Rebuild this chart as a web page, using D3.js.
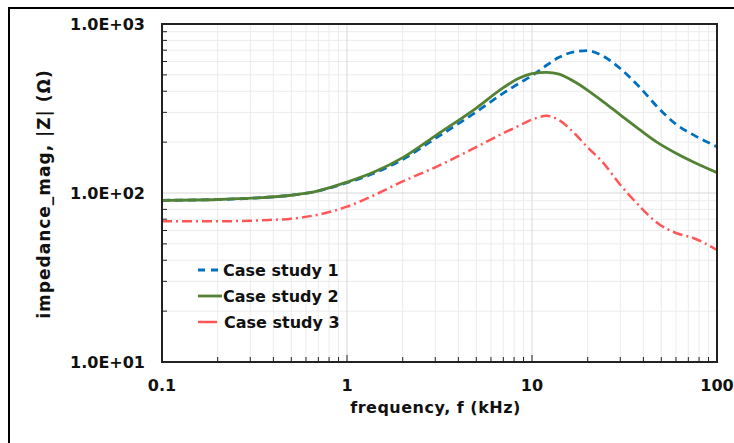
<!DOCTYPE html>
<html>
<head>
<meta charset="utf-8">
<script src="https://cdn.jsdelivr.net/npm/d3@7"></script>
<style>
  body { margin: 0; background: #fff; }
  svg { display: block; font-family: 'DejaVu Sans', sans-serif; }
  .tick-label { font-size: 16px; font-weight: bold; fill: #111; }
</style>
</head>
<body>
<div id="chart"></div>
<script>
// frequency points in kHz (shared by all three cases)
const freq = [0.1, 0.2, 0.35, 0.5, 0.7, 1, 1.4, 2, 3, 5, 7, 8.5, 10, 12, 14, 17, 20, 24, 30, 38, 48, 60, 75, 100]

// impedance magnitude |Z| (ohm)
const case1 = [90.5, 91.5, 94, 97, 103, 115, 131, 158, 210, 302, 390, 445, 495, 570, 635, 685, 695, 650, 545, 425, 320, 255, 220, 188]
const case2 = [90.5, 91.5, 94, 97, 103, 116, 133, 162, 218, 318, 420, 478, 508, 518, 505, 455, 405, 350, 290, 238, 198, 172, 152, 132]
const case3 = [68, 68, 69, 70.5, 74.5, 83, 97, 117, 142, 187, 226, 250, 272, 286, 270, 225, 186, 153, 112, 84, 66, 58, 54, 46]

const seriesNames = ['Case study 1', 'Case study 2', 'Case study 3']
const xTicks = [0.1, 1, 10, 100]
const yTicks = [10, 100, 1000]

const W = 734
const H = 443
const margin = { top: 24, right: 17, bottom: 81, left: 162 }
const width = W - margin.left - margin.right
const height = H - margin.top - margin.bottom

const svg = d3.select('#chart')
  .append('svg')
  .attr('width', W)
  .attr('height', H)

// outer frame of the figure (only left and top visible)
svg.append('path')
  .attr('d', `M9,${H} L9,8 L${W},8`)
  .attr('fill', 'none')
  .attr('stroke', '#000')
  .attr('stroke-width', 2)

const g = svg.append('g')
  .attr('transform', `translate(${margin.left},${margin.top})`)

const x = d3.scaleLog().domain([0.1, 100]).range([0, width])
const y = d3.scaleLog().domain([10, 1000]).range([height, 0])

// minor positions of each decade
const xMinor = x.ticks().filter(d => !xTicks.includes(d))
const yMinor = y.ticks().filter(d => !yTicks.includes(d))

// grid
g.append('g').selectAll('line')
  .data(xMinor)
  .enter().append('line')
  .attr('x1', d => x(d)).attr('x2', d => x(d))
  .attr('y1', 0).attr('y2', height)
  .attr('stroke', '#ececec')
g.append('g').selectAll('line')
  .data(yMinor)
  .enter().append('line')
  .attr('y1', d => y(d)).attr('y2', d => y(d))
  .attr('x1', 0).attr('x2', width)
  .attr('stroke', '#ececec')
g.append('g').selectAll('line')
  .data(xTicks)
  .enter().append('line')
  .attr('x1', d => x(d)).attr('x2', d => x(d))
  .attr('y1', 0).attr('y2', height)
  .attr('stroke', '#d9d9d9')
g.append('g').selectAll('line')
  .data(yTicks)
  .enter().append('line')
  .attr('y1', d => y(d)).attr('y2', d => y(d))
  .attr('x1', 0).attr('x2', width)
  .attr('stroke', '#d9d9d9')

// inward tick marks
g.append('g').selectAll('line')
  .data(yMinor)
  .enter().append('line')
  .attr('x1', 0).attr('x2', 5)
  .attr('y1', d => y(d)).attr('y2', d => y(d))
  .attr('stroke', '#222')
g.append('g').selectAll('line')
  .data(x.ticks())
  .enter().append('line')
  .attr('y1', height).attr('y2', d => xTicks.includes(d) ? height - 7 : height - 5)
  .attr('x1', d => x(d)).attr('x2', d => x(d))
  .attr('stroke', '#222')

// series
const line = d3.line()
  .x(d => x(d[0]))
  .y(d => y(d[1]))
  .curve(d3.curveMonotoneX)

const series = [
  { name: seriesNames[0], values: case1, color: '#0070c0', dash: '8,5', width: 2.8 },
  { name: seriesNames[1], values: case2, color: '#548235', dash: null, width: 2.8 },
  { name: seriesNames[2], values: case3, color: '#ff5757', dash: '10,4,2,4', width: 2.5 }
]

g.append('g').selectAll('path')
  .data(series)
  .enter().append('path')
  .attr('d', s => line(freq.map((f, i) => [f, s.values[i]])))
  .attr('fill', 'none')
  .attr('stroke', s => s.color)
  .attr('stroke-width', s => s.width)
  .attr('stroke-dasharray', s => s.dash)

// plot frame
g.append('rect')
  .attr('width', width).attr('height', height)
  .attr('fill', 'none')
  .attr('stroke', '#222')
  .attr('stroke-width', 2)

// tick labels
g.append('g').selectAll('text')
  .data(yTicks)
  .enter().append('text')
  .attr('class', 'tick-label')
  .attr('x', -17)
  .attr('y', d => y(d))
  .attr('dy', '0.35em')
  .attr('text-anchor', 'end')
  .text(d => d3.format('.1e')(d).replace('e+', 'E+0'))

g.append('g').selectAll('text')
  .data(xTicks)
  .enter().append('text')
  .attr('class', 'tick-label')
  .attr('x', d => x(d))
  .attr('y', height + 29)
  .attr('text-anchor', 'middle')
  .text(d => d)

// axis titles
g.append('text')
  .attr('x', width / 2 - 4)
  .attr('y', height + 51)
  .attr('text-anchor', 'middle')
  .style('font-size', '16px')
  .style('font-weight', 'bold')
  .style('letter-spacing', '0.5px')
  .attr('fill', '#111')
  .text('frequency, f (kHz)')

svg.append('text')
  .attr('transform', `translate(50,${margin.top + height / 2 + 1}) rotate(-90)`)
  .attr('text-anchor', 'middle')
  .style('font-size', '17px')
  .style('font-weight', 'bold')
  .style('letter-spacing', '1px')
  .attr('fill', '#111')
  .text('impedance_mag, |Z| (Ω)')

// legend
const legend = g.append('g')
  .attr('transform', `translate(36,${270 - margin.top})`)

const items = legend.selectAll('g')
  .data(series)
  .enter().append('g')
  .attr('transform', (d, i) => `translate(0,${i * 26})`)

items.append('line')
  .attr('x1', 0).attr('x2', (d, i) => i === 2 ? 19 : 24)
  .attr('stroke', d => d.color)
  .attr('stroke-width', d => d.width)
  .attr('stroke-dasharray', (d, i) => i === 0 ? '7,6' : null)

items.append('text')
  .attr('x', (d, i) => i === 2 ? 26 : 25)
  .attr('dy', '0.35em')
  .style('font-size', '16px')
  .style('font-weight', 'bold')
  .attr('fill', '#111')
  .text(d => d.name)
</script>
</body>
</html>
